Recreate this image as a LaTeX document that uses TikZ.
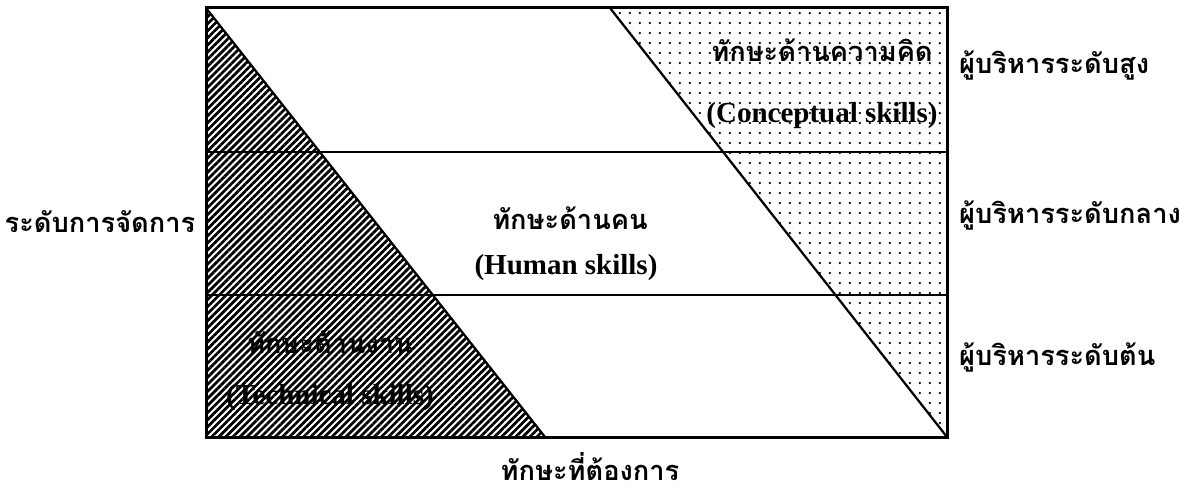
\documentclass[tikz,border=0pt]{standalone}
\usepackage{fontspec}
\setmainfont{Liberation Serif}
\newfontfamily\thaifont[Script=Thai]{Loma}
\usetikzlibrary{patterns.meta}
\begin{document}
\begin{tikzpicture}[x=0.02cm,y=-0.02cm,
  thai/.style={font=\thaifont\bfseries\fontsize{15.5}{18}\selectfont},
  latin/.style={font=\bfseries\fontsize{16.5}{19}\selectfont}]
  \useasboundingbox (0,0) rectangle (1189,493);
  \coordinate (nw) at (206,8);   \coordinate (ne) at (947,8);
  \coordinate (sw) at (206,437); \coordinate (se) at (947,437);
  \coordinate (tfoot) at (545,437); \coordinate (ctop) at (610,8);
  \coordinate (aw) at (206,152); \coordinate (ae) at (947,152);
  \coordinate (bw) at (206,295); \coordinate (be) at (947,295);
  \fill[pattern={Lines[angle=45,distance=0.1cm,line width=0.055cm]}] (nw) -- (tfoot) -- (sw) -- cycle;
  \fill[pattern={Dots[distance=0.2cm,radius=0.025cm]}] (ctop) -- (ne) -- (se) -- cycle;
  \draw[line width=0.03cm] (aw) -- (ae) (bw) -- (be);
  \draw[line width=0.045cm] (nw) -- (tfoot) (ctop) -- (se);
  \draw[line width=0.06cm] (nw) rectangle (se);
  % skill labels
  \node[thai]  (cth) at (822,50)  {ทักษะด้านความคิด};
  \node[latin] (cen) at (822,116) {(Conceptual skills)};
  \node[thai]  (hth) at (570,218) {ทักษะด้านคน};
  \node[latin] (hen) at (566,268) {(Human skills)};
  \node[thai]  (tth) at (330,342) {ทักษะด้านงาน};
  \node[latin] (ten) at (330,398) {(Technical skills)};
  % levels
  \node[thai] (lvl) at (100,222) {ระดับการจัดการ};
  \foreach \n/\y/\t in {top/65/ผู้บริหารระดับสูง, mid/215/ผู้บริหารระดับกลาง, low/357/ผู้บริหารระดับต้น}{
    \node[thai,anchor=west] (\n) at (953,\y) {\t};}
  \node[thai] (need) at (590,467) {ทักษะที่ต้องการ};
\end{tikzpicture}
\end{document}
